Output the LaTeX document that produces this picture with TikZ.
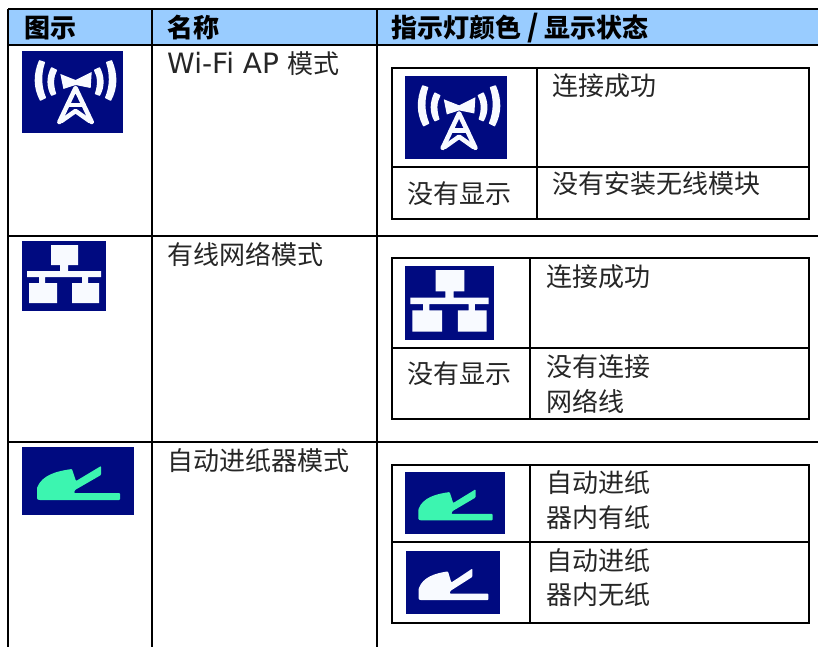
\documentclass[tikz,border=0pt]{standalone}
\usepackage{fontspec}
\setmainfont{DejaVu Sans}
\newfontfamily\cjk{Noto Sans CJK SC}
\definecolor{headblue}{HTML}{99CCFF}
\definecolor{iconblue}{HTML}{000A80}
\definecolor{mint}{HTML}{3CF5B0}
\definecolor{iconwhite}{HTML}{F8FAFF}
\tikzset{
 x=1pt,y=-1pt,
 rule/.style={line width=2pt,black},
 thinrule/.style={line width=1.7pt,black},
 txt/.style={anchor=west,inner sep=0pt,font=\cjk\fontsize{26}{26}\selectfont,text=black!85},
 head/.style={anchor=west,inner sep=0pt,font=\cjk\bfseries\fontsize{26}{26}\selectfont,text=black},
}
% #1 x, #2 y, #3 w, #4 h
\newcommand{\wifiicon}[4]{\begin{scope}[shift={(#1,#2)},x=#3pt/100,y=-#4pt/82]
 \fill[iconblue] (0,0) rectangle (100,82);
 \fill[iconwhite,rounded corners=.6pt]
  (17,9) .. controls (11,23) and (11,37) .. (18,50) -- (24,47) .. controls (19,35) and (19,23) .. (23,11) -- cycle
  (29,16) .. controls (24,26) and (24,36) .. (29,45) -- (34,43) .. controls (31,34) and (31,26) .. (35,19) -- cycle
  (89,9) .. controls (95,23) and (95,37) .. (88,50) -- (82,47) .. controls (87,35) and (87,23) .. (83,11) -- cycle
  (77,16) .. controls (82,26) and (82,36) .. (77,45) -- (72,43) .. controls (75,34) and (75,26) .. (71,19) -- cycle;
 \fill[iconwhite] (38,23) -- (53,29) -- (69,21) -- (68,37) -- (53,34) -- (41,38) -- cycle;
 \begin{scope}[iconwhite,line cap=round,line join=round,line width=.045*#3pt]
  \draw (37,71) -- (53,37) -- (69,71);
  \draw (39,70) -- (53,60) -- (67,70);
  \draw (45,54) -- (61,54);
 \end{scope}
\end{scope}}
\newcommand{\neticon}[4]{\begin{scope}[shift={(#1,#2)},x=#3pt/84,y=-#4pt/70]
 \fill[iconblue] (0,0) rectangle (84,70);
 \fill[iconwhite] (29,4) rectangle (56,24) (38,24) rectangle (46,30)
   (5,30) rectangle (79,36) (17,36) rectangle (23,42) (60,36) rectangle (66,42)
   (7,42) rectangle (35,62) (50,42) rectangle (77,62);
\end{scope}}
\newcommand{\adficon}[5]{\begin{scope}[shift={(#1,#2)},x=#3pt/112,y=-#4pt/68]
 \fill[iconblue] (0,0) rectangle (112,68);
 \fill[#5,rounded corners=.8pt] (17,53) -- (15,52) -- (15,41) .. controls (20,28) and (35,24) .. (50,22)
   -- (54,34) -- (79,19) -- (79,28) -- (53,43) -- (52,46) -- (98,46) -- (98,53) -- cycle;
\end{scope}}
\begin{document}
\begin{tikzpicture}
\useasboundingbox (0,0) rectangle (818,647);
\fill[white] (0,0) rectangle (818,647);
\fill[headblue] (8,9) rectangle (818,45);
\coordinate (tl) at (8,9); \coordinate (bl) at (8,647);
\coordinate (ml) at (152,9); \coordinate (mb) at (152,647);
\coordinate (rl) at (377,9); \coordinate (rb) at (377,647);
\begin{scope}[rule]
 \draw (8,9) -- (818,9);
 \draw (8,45) -- (818,45);
 \draw (8,236) -- (818,236);
 \draw (8,441.7) -- (818,441.7);
 \draw (tl) -- (bl);
 \draw (ml) -- (mb);
 \draw (rl) -- (rb);
\end{scope}
\node[head] (h1) at (24,28) {图示};
\node[head] (h2) at (167,28) {名称};
\node[head] (h3) at (391,28) {指示灯颜色\hspace{6pt}{\fontsize{30}{30}\selectfont /}\hspace{6pt}显示状态};
\node[txt,font=\fontsize{28}{28}\selectfont] (n1) at (167,64) {Wi-Fi AP {\cjk\fontsize{26}{26}\selectfont 模式}};
\node[txt] (n2) at (167,254) {有线网络模式};
\node[txt] (n3) at (167,461) {自动进纸器模式};
\wifiicon{22}{51}{101}{82}
\neticon{22}{241}{84}{70}
\adficon{22}{447}{112}{68}{mint}
\begin{scope}[thinrule]
 \draw (391.7,67.7) rectangle (809,219);
 \draw (391.7,166.7) -- (809,166.7);
 \draw (536.7,67.7) -- (536.7,219);
 \draw (391.7,258) rectangle (809,419);
 \draw (391.7,347.7) -- (809,347.7);
 \draw (530,258) -- (530,419);
 \draw (391.7,465) rectangle (809,622.7);
 \draw (391.7,541.7) -- (809,541.7);
 \draw (530,465) -- (530,622.7);
\end{scope}
\wifiicon{405}{76}{102}{83}
\neticon{405}{266}{89}{74}
\adficon{405}{472}{100}{62}{mint}
\adficon{406}{551}{94}{63}{iconwhite}
\node[txt] (a1) at (552,86) {连接成功};
\node[txt] (a2) at (407,194) {没有显示};
\node[txt] (a3) at (552,184) {没有安装无线模块};
\node[txt] (b1) at (546,277) {连接成功};
\node[txt] (b2) at (407,374) {没有显示};
\node[txt] (b3) at (546,367) {没有连接};
\node[txt] (b4) at (546,401) {网络线};
\node[txt] (c1) at (546,483) {自动进纸};
\node[txt] (c2) at (546,518) {器内有纸};
\node[txt] (c3) at (546,561) {自动进纸};
\node[txt] (c4) at (546,595) {器内无纸};
\end{tikzpicture}
\end{document}
